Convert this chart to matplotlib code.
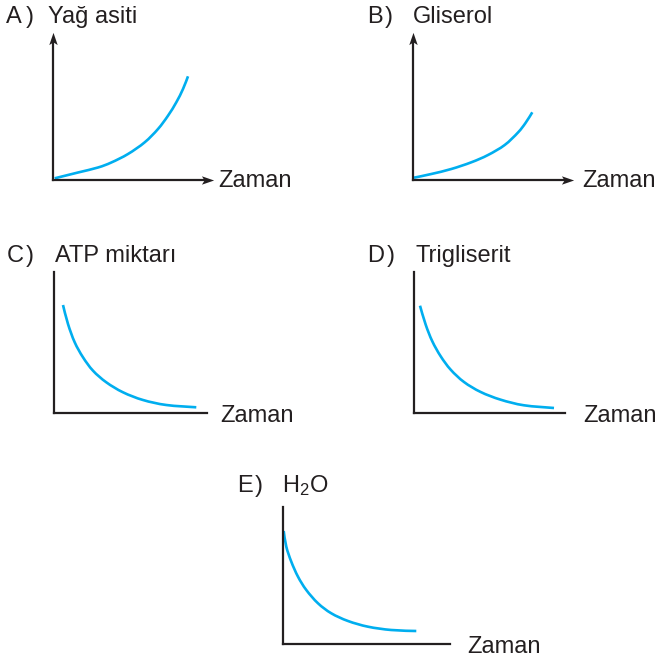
import matplotlib
matplotlib.use("Agg")
import matplotlib.pyplot as plt
from matplotlib.path import Path
from matplotlib.patches import PathPatch
import numpy as np

plt.rcParams['font.family'] = ['Liberation Sans', 'DejaVu Sans']
plt.rcParams['mathtext.default'] = 'regular'

W_PX, H_PX = 658, 659

# ---- data (time offset, amount), in panel units ----
a_time = [1.7, 25, 45, 58.3, 75, 91.7, 105, 115, 123.3, 130, 135]
a_value = [1.7, 7.5, 12.5, 17.5, 26, 37.7, 51, 64.3, 77.7, 91, 103.7]

b_time = [1, 18.3, 38.3, 58.3, 75, 91.7, 105, 112.5, 119.3]
b_value = [2.3, 6, 11, 17.7, 25, 35, 47.5, 57, 67.7]

c_time = [9, 14, 20.7, 29, 39, 52.3, 69, 89, 112.3, 142.3]
c_value = [108, 89, 70.7, 55.7, 42.3, 30.7, 20.7, 13, 8, 5.7]

d_time = [6, 11.7, 18.3, 26.7, 36.7, 50, 66.7, 86.7, 110, 140]
d_value = [107.3, 88.3, 71.7, 56.7, 43.3, 31, 21, 13.3, 7.7, 5]

e_time = [0.7, 3.3, 8.3, 15, 23.3, 35, 48.3, 65, 85, 108.3, 133.3]
e_value = [113, 97.3, 82.3, 67.3, 54, 40.7, 30.7, 23, 17.3, 14, 13]

letters = ["A", "B", "C", "D", "E"]
ylabels = ["Yağ asiti", "Gliserol", "ATP miktarı", "Trigliserit", "H$_2$O"]
xlabel = "Zaman"

AX_COLOR = "#231f20"
CURVE_COLOR = "#00aeef"
FS = 17

fig = plt.figure(figsize=(W_PX / 100, H_PX / 100), dpi=100)

def fx(x):
    return x / W_PX

def fy(y):
    return 1 - y / H_PX

def smooth_path(xs, ys):
    """Catmull-Rom spline through the read points, as cubic Bezier path."""
    pts = np.column_stack([xs, ys]).astype(float)
    n = len(pts)
    verts = [pts[0]]
    codes = [Path.MOVETO]
    for i in range(n - 1):
        p0 = pts[i - 1] if i > 0 else pts[i]
        p1 = pts[i]
        p2 = pts[i + 1]
        p3 = pts[i + 2] if i + 2 < n else pts[i + 1]
        c1 = p1 + (p2 - p0) / 6.0
        c2 = p2 - (p3 - p1) / 6.0
        verts += [c1, c2, p2]
        codes += [Path.CURVE4] * 3
    return Path(verts, codes)

panels = [
    dict(o=(53, 180), w=153, h=140, arrows=True, let=(6, 23), par=26, yl=48, zam=(218, 187),
         t=a_time, v=a_value),
    dict(o=(413, 180), w=153, h=140, arrows=True, let=(367, 23), par=384.5, yl=413, zam=(582, 187),
         t=b_time, v=b_value),
    dict(o=(54, 413), w=153, h=141, arrows=False, let=(7, 262), par=25.5, yl=55, zam=(220, 422),
         t=c_time, v=c_value),
    dict(o=(414, 413), w=151, h=141, arrows=False, let=(367, 262), par=386.5, yl=415, zam=(583, 422),
         t=d_time, v=d_value),
    dict(o=(283, 644), w=167, h=137, arrows=False, let=(237, 492), par=254.5, yl=282, zam=(467, 653),
         t=e_time, v=e_value),
]

right_arrow = [(1, 0), (-0.6, 0.55), (-0.25, 0), (-0.6, -0.55), (1, 0)]
up_arrow = [(0, 1), (0.55, -0.6), (0, -0.25), (-0.55, -0.6), (0, 1)]

for i, p in enumerate(panels):
    ox, oy = p['o']
    ax = fig.add_axes([fx(ox), fy(oy), p['w'] / W_PX, p['h'] / H_PX])
    ax.set_xlim(0, p['w'])
    ax.set_ylim(0, p['h'])
    ax.set_facecolor('none')
    for s in ['top', 'right']:
        ax.spines[s].set_visible(False)
    for s in ['left', 'bottom']:
        ax.spines[s].set_color(AX_COLOR)
        ax.spines[s].set_linewidth(1.6)
        ax.spines[s].set_capstyle('projecting')
    ax.set_xticks([])
    ax.set_yticks([])
    patch = PathPatch(smooth_path(p['t'], p['v']), facecolor='none',
                      edgecolor=CURVE_COLOR, lw=1.9, capstyle='butt',
                      joinstyle='round', clip_on=False)
    ax.add_patch(patch)
    if p['arrows']:
        ax.plot(1, 0, marker=right_arrow, ms=11, color=AX_COLOR, mew=0,
                transform=ax.transAxes, clip_on=False)
        ax.plot(0, 1, marker=up_arrow, ms=11, color=AX_COLOR, mew=0,
                transform=ax.transAxes, clip_on=False)
    lx, ly = p['let']
    fig.text(fx(lx), fy(ly), letters[i], fontsize=FS, color=AX_COLOR, va='baseline', ha='left')
    fig.text(fx(p['par']), fy(ly), ")", fontsize=FS, color=AX_COLOR, va='baseline', ha='left')
    fig.text(fx(p['yl']), fy(ly), ylabels[i], fontsize=FS, color=AX_COLOR, va='baseline', ha='left')
    zx, zy = p['zam']
    fig.text(fx(zx), fy(zy), xlabel, fontsize=FS, color=AX_COLOR, va='baseline', ha='left')

fig.savefig("out.png", dpi=100)
